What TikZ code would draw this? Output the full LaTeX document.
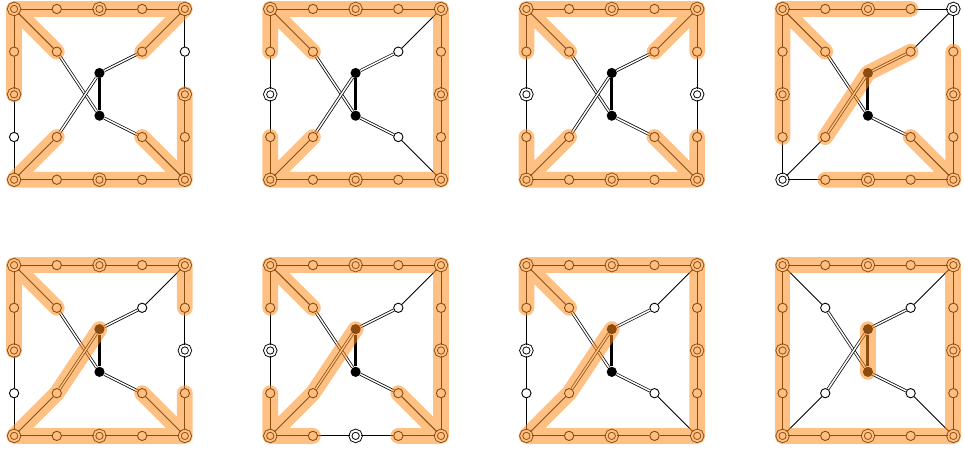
\documentclass[tikz,border=0pt]{standalone}
\usepackage{tikz}
\definecolor{hlorange}{RGB}{255,140,30}
\tikzset{
    bignode/.style={circle, draw, fill=white, double, double distance=1.3pt,
        line width=0.6pt, minimum size=7pt, inner sep=0pt},
    smallnode/.style={circle, draw, fill=white, line width=0.6pt,
        minimum size=6.2pt, inner sep=0pt},
    blacknode/.style={circle, fill=black, minimum size=6.8pt, inner sep=0pt},
    plain/.style={line width=0.6pt},
    dbl/.style={double, double distance=1pt, line width=0.5pt},
    thickedge/.style={line width=2pt},
    hl/.style={draw=hlorange, opacity=0.55, line width=10.5pt,
        line cap=round, line join=round}
}
% one square gadget, #1 = shift, #2 = highlighted path
\newcommand{\hourglass}[2]{%
    \begin{scope}[shift={#1}]
        \foreach \n/\x/\y in {TL/0/4,T2/2/4,TR/4/4,R2/4/2,BR/4/0,B2/2/0,BL/0/0,L2/0/2}
            \node[bignode] (\n) at (\x,\y) {};
        \foreach \n/\x/\y in {T1/1/4,T3/3/4,R3/4/3,R1/4/1,B3/3/0,B1/1/0,L1/0/1,L3/0/3,
                              iUL/1/3,iUR/3/3,iLL/1/1,iLR/3/1}
            \node[smallnode] (\n) at (\x,\y) {};
        \node[blacknode] (bU) at (2,2.5) {};
        \node[blacknode] (bD) at (2,1.5) {};
        \draw[plain] (TL) -- (T1) -- (T2) -- (T3) -- (TR) -- (R3) -- (R2) -- (R1) -- (BR)
            -- (B3) -- (B2) -- (B1) -- (BL) -- (L1) -- (L2) -- (L3) -- (TL);
        \foreach \a/\b in {TL/iUL,TR/iUR,BL/iLL,BR/iLR}
            \draw[plain] (\a) -- (\b);
        \foreach \a/\b in {iUL/bD,iLL/bU,iUR/bU,iLR/bD}
            \draw[dbl] (\a) -- (\b);
        \draw[thickedge] (bU) -- (bD);
        \draw[hl] #2;
    \end{scope}}

\begin{document}
\begin{tikzpicture}
    \useasboundingbox (-0.33,-0.42) rectangle (22.25,10.21);
    % top row
    \hourglass{(0,6)}{(L2.center) -- (L3.center) -- (TL.center) -- (T1.center) -- (T2.center)
        -- (T3.center) -- (TR.center) -- (iUR.center) (TL.center) -- (iUL.center)
        (iLL.center) -- (BL.center) -- (B1.center) -- (B2.center) -- (B3.center) -- (BR.center)
        -- (iLR.center) (BR.center) -- (R1.center) -- (R2.center)}
    \hourglass{(6,6)}{(L3.center) -- (TL.center) -- (T1.center) -- (T2.center) -- (T3.center)
        -- (TR.center) -- (R3.center) -- (R2.center) -- (R1.center) -- (BR.center) -- (B3.center)
        -- (B2.center) -- (B1.center) -- (BL.center) -- (L1.center)
        (TL.center) -- (iUL.center) (BL.center) -- (iLL.center)}
    \hourglass{(12,6)}{(L3.center) -- (TL.center) -- (T1.center) -- (T2.center) -- (T3.center)
        -- (TR.center) -- (R3.center) (TL.center) -- (iUL.center) (TR.center) -- (iUR.center)
        (L1.center) -- (BL.center) -- (B1.center) -- (B2.center) -- (B3.center) -- (BR.center)
        -- (R1.center) (BL.center) -- (iLL.center) (BR.center) -- (iLR.center)}
    \hourglass{(18,6)}{(L1.center) -- (L2.center) -- (L3.center) -- (TL.center) -- (T1.center)
        -- (T2.center) -- (T3.center) (TL.center) -- (iUL.center)
        (iLL.center) -- (bU.center) -- (iUR.center)
        (iLR.center) -- (BR.center) -- (R1.center) -- (R2.center) -- (R3.center)
        (BR.center) -- (B3.center) -- (B2.center) -- (B1.center)}
    % bottom row
    \hourglass{(0,0)}{(L2.center) -- (L3.center) -- (TL.center) -- (T1.center) -- (T2.center)
        -- (T3.center) -- (TR.center) -- (R3.center) (TL.center) -- (iUL.center)
        (bU.center) -- (iLL.center) -- (BL.center) -- (B1.center) -- (B2.center) -- (B3.center)
        -- (BR.center) -- (iLR.center) (BR.center) -- (R1.center)}
    \hourglass{(6,0)}{(L3.center) -- (TL.center) -- (T1.center) -- (T2.center) -- (T3.center)
        -- (TR.center) -- (R3.center) -- (R2.center) -- (R1.center) -- (BR.center) -- (B3.center)
        (TL.center) -- (iUL.center) (BR.center) -- (iLR.center)
        (L1.center) -- (BL.center) -- (B1.center) (BL.center) -- (iLL.center) -- (bU.center)}
    \hourglass{(12,0)}{(L3.center) -- (TL.center) -- (T1.center) -- (T2.center) -- (T3.center)
        -- (TR.center) -- (R3.center) -- (R2.center) -- (R1.center) -- (BR.center) -- (B3.center)
        -- (B2.center) -- (B1.center) -- (BL.center) -- (iLL.center) -- (bU.center)
        (TL.center) -- (iUL.center)}
    \hourglass{(18,0)}{(L1.center) -- (L2.center) -- (L3.center) -- (TL.center) -- (T1.center)
        -- (T2.center) -- (T3.center) -- (TR.center) -- (R3.center) -- (R2.center) -- (R1.center)
        -- (BR.center) -- (B3.center) -- (B2.center) -- (B1.center) -- (BL.center) -- (L1.center)
        (bU.center) -- (bD.center)}
\end{tikzpicture}
\end{document}
